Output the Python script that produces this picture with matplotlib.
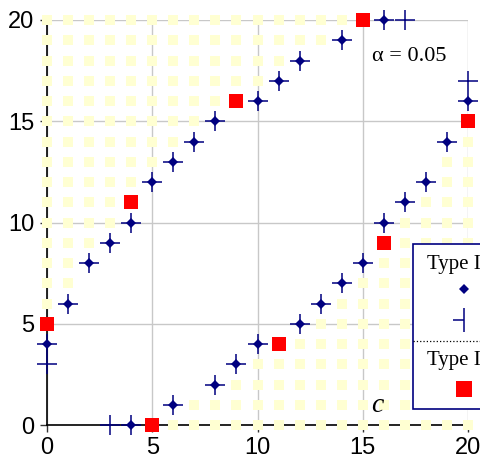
import matplotlib
matplotlib.use('Agg')
import matplotlib.pyplot as plt
from matplotlib.patches import Rectangle

# ---- data ----
# Type I boundary (upper-left band) and its mirror (lower-right band)
upper_x = [0, 1, 2, 3, 4, 5, 6, 7, 8, 10, 11, 12, 14, 16]
upper_y = [4, 6, 8, 9, 10, 12, 13, 14, 15, 16, 17, 18, 19, 20]
lower_x = [4, 6, 8, 9, 10, 12, 13, 14, 15, 16, 17, 18, 19, 20]
lower_y = [0, 1, 2, 3, 4, 5, 6, 7, 8, 10, 11, 12, 14, 16]
# extra '+' only points
plus_x = [0, 3, 17, 20]
plus_y = [3, 0, 20, 17]
# Type II (red squares)
red_x = [0, 4, 9, 15, 5, 11, 16, 20]
red_y = [5, 11, 16, 20, 0, 4, 9, 15]
# light yellow grid: for each row (upper) / column (lower) the last filled index
fill_idx = [6, 7, 8, 9, 10, 11, 12, 13, 14, 15, 16, 17, 18, 19, 20]
fill_max = [0, 1, 1, 2, 3, 3, 4, 5, 6, 7, 8, 10, 11, 13, 14]
ticks = [0, 5, 10, 15, 20]

yel_x, yel_y = [], []
for k, m in zip(fill_idx, fill_max):
    for j in range(m + 1):
        yel_x.append(j)
        yel_y.append(k)
        yel_x.append(k)
        yel_y.append(j)

navy = '#000080'
fig = plt.figure(figsize=(4.8, 4.68), dpi=100)
ax = fig.add_axes([47 / 480, 43 / 468, 421 / 480, 405 / 468])

ax.plot(yel_x, yel_y, 's', color='#FFFFD2', ms=7.2, mew=0, ls='none',
        clip_on=False, zorder=3)
dx = upper_x + lower_x
dy = upper_y + lower_y
ax.plot(dx + plus_x, dy + plus_y, '+', color=navy, ms=15, mew=1.1,
        ls='none', clip_on=False, zorder=4)
ax.plot(dx, dy, 'D', color=navy, ms=5.5, mew=0, ls='none',
        clip_on=False, zorder=5)
ax.plot(red_x, red_y, 's', color='#FF0000', ms=10.5, mew=0, ls='none',
        clip_on=False, zorder=6)

ax.set_xlim(0, 20)
ax.set_ylim(0, 20)
ax.set_xticks(ticks)
ax.set_yticks(ticks)
ax.grid(True, color='#c8c8c8', lw=1)
ax.set_axisbelow(True)
for s in ['top', 'right']:
    ax.spines[s].set_visible(False)
for s in ['left', 'bottom']:
    ax.spines[s].set_color('black')
    ax.spines[s].set_linewidth(1.2)
ax.tick_params(direction='out', length=5, width=1, colors='#333333',
               labelcolor='black', labelsize=17, pad=4)
for lab in ax.get_xticklabels() + ax.get_yticklabels():
    lab.set_family('Liberation Sans')

ax.text(15.45, 18.2, 'α = 0.05', family='Liberation Serif',
        fontsize=16, va='center', ha='left')
ax.text(15.7, 0.95, 'c', family='Liberation Serif', style='italic',
        fontsize=20, va='center', ha='center', zorder=7)

# ---- legend box, cut off by the right edge like the original ----
lg = fig.add_axes([0, 0, 1, 1], facecolor='none')
lg.set_xlim(0, 480)
lg.set_ylim(468, 0)
lg.axis('off')
lg.add_patch(Rectangle((413, 244), 120, 165, facecolor='white',
                       edgecolor=navy, lw=1.2, clip_on=False))
lg.text(427, 264, 'Type I', family='Liberation Serif', fontsize=15,
        va='center', ha='left', clip_on=True)
lg.plot([464], [289], 'D', color=navy, ms=5, mew=0)
lg.plot([464], [320], '|', color=navy, ms=17, mew=1.1)
lg.plot([464], [320], marker=0, color=navy, ms=8, mew=1.1)
lg.plot([413, 480], [341, 341], ':', color='black', lw=0.9)
lg.text(427, 360, 'Type II', family='Liberation Serif', fontsize=15,
        va='center', ha='left', clip_on=True)
lg.plot([464], [389], 's', color='#FF0000', ms=11, mew=0)

fig.savefig('out.png', dpi=100)
